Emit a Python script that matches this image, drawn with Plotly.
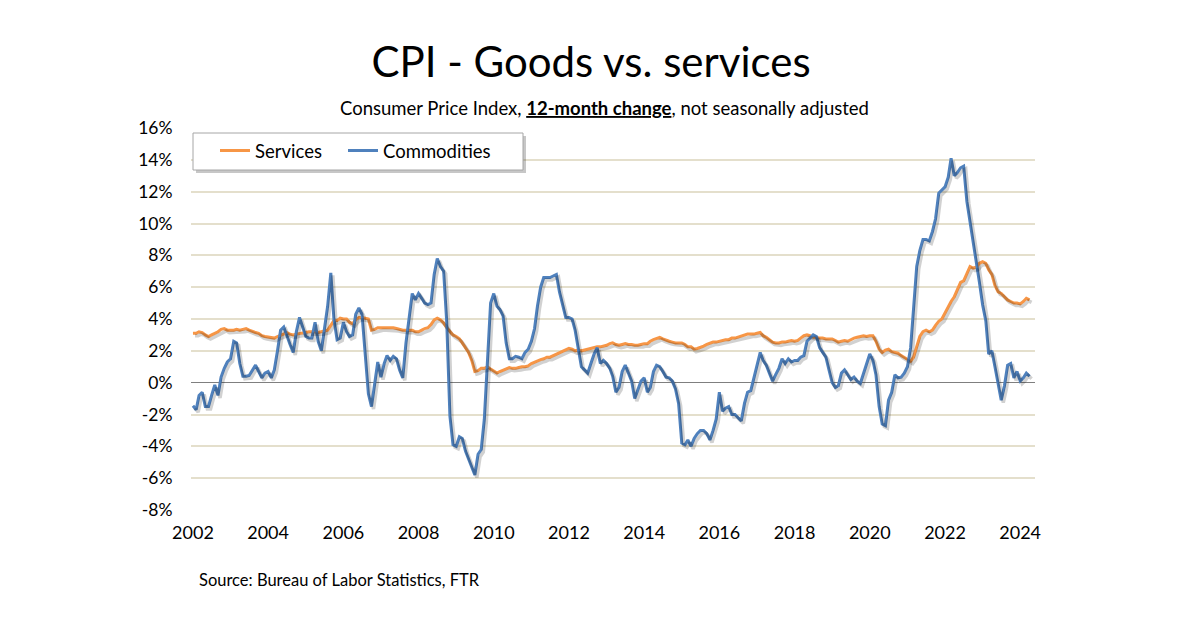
import plotly.graph_objects as go
import pandas as pd

# ---- data (12-month % change, monthly, Jan 2002 - Apr 2024) ----
services = [
    # 2002
    3.1, 3.1, 3.2, 3.15, 3.0, 2.9, 3.0, 3.1, 3.2, 3.35, 3.4, 3.3,
    # 2003
    3.3, 3.3, 3.35, 3.3, 3.35, 3.4, 3.3, 3.2, 3.15, 3.1, 2.95, 2.9,
    # 2004
    2.85, 2.8, 2.8, 2.9, 3.0, 3.1, 3.15, 3.05, 3.0, 3.05, 3.1, 3.1,
    # 2005
    3.15, 3.2, 3.2, 3.2, 3.15, 3.2, 3.25, 3.3, 3.6, 3.9, 3.9, 4.05,
    # 2006
    4.0, 4.0, 3.8, 3.7, 3.95, 4.1, 4.1, 4.05, 4.0, 3.3, 3.35, 3.45,
    # 2007
    3.45, 3.45, 3.45, 3.45, 3.45, 3.4, 3.35, 3.3, 3.3, 3.3, 3.3, 3.2,
    # 2008
    3.2, 3.3, 3.4, 3.45, 3.65, 3.95, 4.05, 3.95, 3.75, 3.45, 3.2, 3.0,
    # 2009
    2.9, 2.75, 2.5, 2.2, 1.9, 1.4, 0.7, 0.75, 0.9, 0.9, 1.0, 0.85,
    # 2010
    0.75, 0.6, 0.7, 0.8, 0.9, 0.95, 0.9, 0.9, 0.95, 1.0, 1.0, 1.05,
    # 2011
    1.2, 1.3, 1.4, 1.45, 1.5, 1.6, 1.6, 1.7, 1.8, 1.9, 2.0, 2.1,
    # 2012
    2.15, 2.1, 2.0, 2.05, 2.0, 2.05, 2.1, 2.15, 2.2, 2.25, 2.25, 2.3,
    # 2013
    2.35, 2.45, 2.5, 2.4, 2.35, 2.4, 2.45, 2.4, 2.4, 2.35, 2.35, 2.4,
    # 2014
    2.45, 2.45, 2.6, 2.7, 2.8, 2.85, 2.75, 2.65, 2.6, 2.55, 2.5, 2.5,
    # 2015
    2.5, 2.4, 2.25, 2.25, 2.1, 2.15, 2.2, 2.3, 2.4, 2.5, 2.55, 2.55,
    # 2016
    2.6, 2.65, 2.7, 2.7, 2.8, 2.8, 2.85, 2.9, 3.0, 3.05, 3.05, 3.05,
    # 2017
    3.1, 3.15, 2.95, 2.85, 2.7, 2.55, 2.5, 2.5, 2.55, 2.55, 2.6, 2.65,
    # 2018
    2.6, 2.65, 2.8, 2.95, 3.0, 2.95, 2.85, 2.85, 2.8, 2.8, 2.75, 2.75,
    # 2019
    2.75, 2.65, 2.55, 2.6, 2.65, 2.6, 2.7, 2.8, 2.85, 2.9, 2.95, 2.9,
    # 2020
    2.95, 2.95, 2.6, 2.1, 1.9, 2.05, 2.1, 1.95, 1.9, 1.85, 1.7, 1.6,
    # 2021
    1.5, 1.35, 1.6, 2.3, 2.9, 3.2, 3.3, 3.2, 3.3, 3.6, 3.85, 4.0,
    # 2022
    4.4, 4.8, 5.1, 5.4, 5.8, 6.3, 6.4, 6.8, 7.3, 7.2, 7.25, 7.5,
    # 2023
    7.6, 7.5, 7.1, 6.8, 6.1, 5.7, 5.6, 5.4, 5.2, 5.1, 5.0, 5.0,
    # 2024
    4.95, 5.1, 5.3, 5.2,
]

commodities = [
    # 2002
    -1.45, -1.7, -0.8, -0.6, -1.5, -1.5, -0.8, -0.15, -0.8, 0.35, 0.9, 1.3,
    # 2003
    1.5, 2.6, 2.5, 1.2, 0.4, 0.4, 0.45, 0.8, 1.1, 0.7, 0.3, 0.6,
    # 2004
    0.7, 0.3, 0.8, 2.0, 3.3, 3.5, 2.9, 2.4, 1.9, 3.2, 4.1, 3.5,
    # 2005
    2.9, 2.8, 2.8, 3.8, 2.6, 2.0, 3.5, 4.8, 6.9, 4.0, 2.7, 2.8,
    # 2006
    3.8, 3.2, 2.9, 3.0, 4.3, 4.7, 4.3, 2.0, -0.7, -1.5, 0.1, 1.3,
    # 2007
    0.35, 1.2, 1.7, 1.4, 1.65, 1.5, 0.8, 0.3, 2.5, 4.2, 5.6, 5.2,
    # 2008
    5.6, 5.3, 5.0, 4.9, 5.0, 6.8, 7.8, 7.3, 7.0, 3.8, -2.1, -3.9,
    # 2009
    -4.0, -3.4, -3.5, -4.3, -4.8, -5.2, -5.8, -4.5, -4.2, -2.3, 1.3, 5.0,
    # 2010
    5.6, 4.8, 4.6, 4.2, 2.5, 1.5, 1.5, 1.65, 1.6, 1.5, 1.9, 2.1,
    # 2011
    2.6, 3.4, 4.8, 6.0, 6.6, 6.6, 6.6, 6.7, 6.8, 5.7, 4.9, 4.1,
    # 2012
    4.1, 4.0, 3.3, 2.0, 1.0, 0.8, 0.6, 1.2, 1.8, 2.2, 1.2, 1.4,
    # 2013
    1.2, 0.9, 0.4, -0.6, -0.3, 0.7, 1.1, 0.6, 0.1, -1.0, -0.5, 0.1,
    # 2014
    0.3, -0.6, -0.3, 0.7, 1.1, 1.0, 0.7, 0.35, 0.3, 0.1, -0.4, -1.3,
    # 2015
    -3.8, -3.9, -3.6, -4.0, -3.5, -3.2, -3.0, -3.0, -3.2, -3.6, -3.0, -2.3,
    # 2016
    -0.6, -1.8, -1.6, -1.5, -2.0, -2.0, -2.2, -2.4, -1.3, -0.6, -0.5, 0.3,
    # 2017
    1.2, 1.9, 1.4, 1.1, 0.6, 0.1, 0.5, 0.9, 1.5, 1.2, 1.5, 1.3,
    # 2018
    1.4, 1.4, 1.6, 1.7, 2.6, 2.8, 3.0, 2.9, 2.2, 1.9, 1.6, 0.8,
    # 2019
    0.0, -0.3, -0.2, 0.6, 0.8, 0.5, 0.2, 0.35, 0.1, -0.05, 0.6, 1.2,
    # 2020
    1.8, 1.4, 0.5, -1.5, -2.6, -2.7, -1.1, -0.6, 0.5, 0.3, 0.35, 0.6,
    # 2021
    1.0, 2.2, 4.5, 7.3, 8.3, 9.0, 9.0, 8.9, 9.5, 10.3, 11.9, 12.1,
    # 2022
    12.3, 12.9, 14.1, 13.0, 13.2, 13.5, 13.6, 11.4, 10.1, 9.0, 7.8, 6.3,
    # 2023
    4.9, 3.9, 1.8, 2.0, 1.0, 0.0, -1.1, -0.2, 1.1, 1.2, 0.3, 0.7,
    # 2024
    0.1, 0.3, 0.6, 0.4,
]

months = pd.date_range("2002-01-01", periods=len(services), freq="MS")
year_ticks = [f"{y}-01-01" for y in range(2002, 2025, 2)]
year_labels = [str(y) for y in range(2002, 2025, 2)]
y_ticks = list(range(-8, 17, 2))
y_labels = [f"{v}%" for v in y_ticks]

ORANGE = "#F79646"
BLUE = "#4F81BD"
FONT = "Lato"

# plot-area pixel geometry
L, R, T, B = 191, 1035, 128, 510
W, H = R - L, B - T


def px(x):
    return (x - L) / W


def py(y):
    return (B - y) / H


fig = go.Figure()

# soft shadows (same data on slightly offset overlay axes)
for vals in (services, commodities):
    fig.add_trace(go.Scatter(x=months, y=vals, mode="lines", xaxis="x2", yaxis="y2",
                             line=dict(color="rgba(0,0,0,0.18)", width=3.5),
                             showlegend=False, hoverinfo="skip"))

fig.add_trace(go.Scatter(x=months, y=services, mode="lines", name="Services",
                         line=dict(color=ORANGE, width=3), legend="legend"))
fig.add_trace(go.Scatter(x=months, y=commodities, mode="lines", name="Commodities",
                         line=dict(color=BLUE, width=3), legend="legend2"))

xr = ["2001-12-13", "2024-05-24"]
yr = [-8, 16]
dy = 2.5 * (yr[1] - yr[0]) / H
dx_days = 2.0 * (22.39 * 365.25) / W
xr2 = [str(pd.Timestamp(xr[0]) - pd.Timedelta(days=dx_days))[:10],
       str(pd.Timestamp(xr[1]) - pd.Timedelta(days=dx_days))[:10]]

legend_common = dict(orientation="h", xanchor="left", yanchor="middle",
                     bgcolor="rgba(0,0,0,0)", borderwidth=0,
                     font=dict(family=FONT, size=18.5), itemwidth=30)

fig.update_layout(
    width=1200, height=628,
    margin=dict(l=L, r=1200 - R, t=T, b=628 - B),
    paper_bgcolor="white", plot_bgcolor="white",
    font=dict(family=FONT, color="#000000", size=17),
    title=dict(text="CPI - Goods vs. services", x=591 / 1200, xanchor="center",
               y=1 - 62 / 628, yanchor="middle", xref="container", yref="container",
               font=dict(family=FONT, size=42, color="#000000")),
    xaxis=dict(type="date", range=xr, tickvals=year_ticks, ticktext=year_labels,
               showgrid=False, zeroline=False, showline=False,
               ticks="outside", ticklen=6, tickcolor="rgba(0,0,0,0)",
               tickfont=dict(family=FONT, size=18)),
    yaxis=dict(range=yr, tickvals=y_ticks, ticktext=y_labels,
               showgrid=True, gridcolor="#E4DFCC", gridwidth=1.5,
               zeroline=True, zerolinecolor="#7F7F7F", zerolinewidth=1,
               showline=False, ticks="outside", ticklen=14, tickcolor="rgba(0,0,0,0)",
               tickfont=dict(family=FONT, size=17.5)),
    xaxis2=dict(type="date", range=xr2, overlaying="x", visible=False),
    yaxis2=dict(range=[yr[0] + dy, yr[1] + dy], overlaying="y", visible=False),
    legend=dict(x=px(215), y=py(151), **legend_common),
    legend2=dict(x=px(343), y=py(151), **legend_common),
    showlegend=True,
)

# legend frame with shadow
fig.add_shape(type="rect", xref="paper", yref="paper",
              x0=px(196), x1=px(526), y0=py(136), y1=py(173),
              line=dict(width=0), fillcolor="rgba(0,0,0,0.22)", layer="above")
fig.add_shape(type="rect", xref="paper", yref="paper",
              x0=px(193), x1=px(523), y0=py(133), y1=py(170),
              line=dict(color="#A6A6A6", width=1), fillcolor="white", layer="above")

fig.add_annotation(text="Consumer Price Index, <b><u>12-month change</u></b>, not seasonally adjusted",
                   xref="paper", yref="paper", x=px(604), y=py(108),
                   xanchor="center", yanchor="middle", showarrow=False,
                   font=dict(family=FONT, size=18.5, color="#000000"))
fig.add_annotation(text="Source: Bureau of Labor Statistics, FTR",
                   xref="paper", yref="paper", x=px(197), y=py(580),
                   xanchor="left", yanchor="middle", showarrow=False,
                   font=dict(family=FONT, size=16.5, color="#000000"))

fig.write_html("out.html")
